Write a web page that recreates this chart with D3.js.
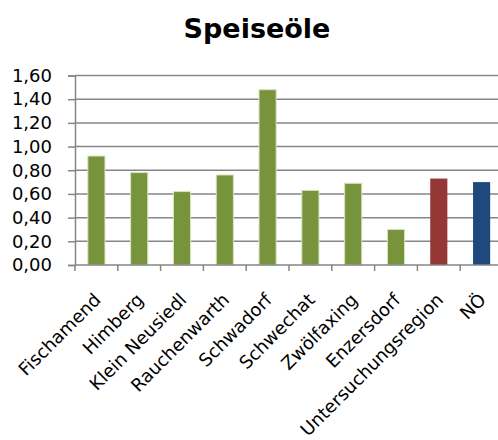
<!DOCTYPE html>
<html>
<head>
<meta charset="utf-8">
<script src="https://cdn.jsdelivr.net/npm/d3@7"></script>
<style>
  html, body { margin: 0; padding: 0; background: #fff; }
  svg { display: block; font-family: "DejaVu Sans", Verdana, sans-serif; }
</style>
</head>
<body>
<svg id="chart" width="498" height="440"></svg>
<script>
// Per-capita edible oil values by municipality
const categories = ["Fischamend", "Himberg", "Klein Neusiedl", "Rauchenwarth", "Schwadorf",
  "Schwechat", "Zwölfaxing", "Enzersdorf", "Untersuchungsregion", "NÖ"];
const values = [0.92, 0.78, 0.62, 0.76, 1.48, 0.63, 0.69, 0.30, 0.73, 0.70];
const barColors = ["#77933C", "#77933C", "#77933C", "#77933C", "#77933C",
  "#77933C", "#77933C", "#77933C", "#953735", "#1F497D"];
const yTicks = [0, 0.2, 0.4, 0.6, 0.8, 1.0, 1.2, 1.4, 1.6];
const title = "Speiseöle";

const svg = d3.select("#chart");
const plotLeft = 75, plotRight = 503, plotTop = 75.5, plotBottom = 265;
const axisColor = "#868686";

const x = d3.scaleBand().domain(categories).range([plotLeft, plotRight]).paddingInner(0.6).paddingOuter(0.3);
const xb = d3.scaleBand().domain(categories).range([plotLeft, plotRight]);
const y = d3.scaleLinear().domain([0, 1.6]).range([plotBottom, plotTop]);
const fmt = d => d.toFixed(2).replace(".", ",");

// Title
svg.append("text")
  .attr("x", 257).attr("y", 38)
  .attr("text-anchor", "middle")
  .attr("font-weight", "bold")
  .attr("font-size", 27)
  .text(title);

// Horizontal gridlines
svg.append("g").selectAll("line").data(yTicks.slice(1)).join("line")
  .attr("x1", plotLeft).attr("x2", plotRight)
  .attr("y1", d => y(d)).attr("y2", d => y(d))
  .attr("stroke", axisColor).attr("stroke-width", 1.5);

// Bars
svg.append("g").selectAll("rect").data(values).join("rect")
  .attr("x", (d, i) => x(categories[i]))
  .attr("width", x.bandwidth())
  .attr("y", d => y(d))
  .attr("height", d => y(0) - y(d))
  .attr("fill", (d, i) => barColors[i])
  .attr("stroke", (d, i) => i < 8 ? "#d7e4bd" : "none")
  .attr("stroke-width", 1);

// Y axis
const yAxis = d3.axisLeft(y).tickValues(yTicks).tickFormat(fmt).tickSize(7).tickPadding(16);
const gy = svg.append("g").attr("transform", `translate(${plotLeft},0)`).call(yAxis);
gy.select(".domain").attr("stroke", axisColor).attr("stroke-width", 1.5);
gy.selectAll(".tick line").attr("stroke", axisColor).attr("stroke-width", 1.5);
gy.selectAll(".tick text").attr("font-size", 18).attr("fill", "#000")
  .attr("font-family", "DejaVu Sans, Verdana, sans-serif");

// X axis: ticks at band boundaries, labels rotated
const gx = svg.append("g").attr("transform", `translate(0,${plotBottom})`);
gx.append("line").attr("x1", plotLeft).attr("x2", plotRight).attr("y1", 0).attr("y2", 0)
  .attr("stroke", axisColor).attr("stroke-width", 1.5);
gx.selectAll("line.tk").data(categories).join("line").attr("class", "tk")
  .attr("x1", d => xb(d)).attr("x2", d => xb(d))
  .attr("y1", 0).attr("y2", 6)
  .attr("stroke", axisColor).attr("stroke-width", 1.5);
gx.selectAll("text").data(categories).join("text")
  .attr("transform", d => `translate(${xb(d) + xb.bandwidth() / 2 + 5.5},36) rotate(-45)`)
  .attr("text-anchor", "end")
  .attr("font-size", 18)
  .attr("fill", "#000")
  .text(d => d);
</script>
</body>
</html>
